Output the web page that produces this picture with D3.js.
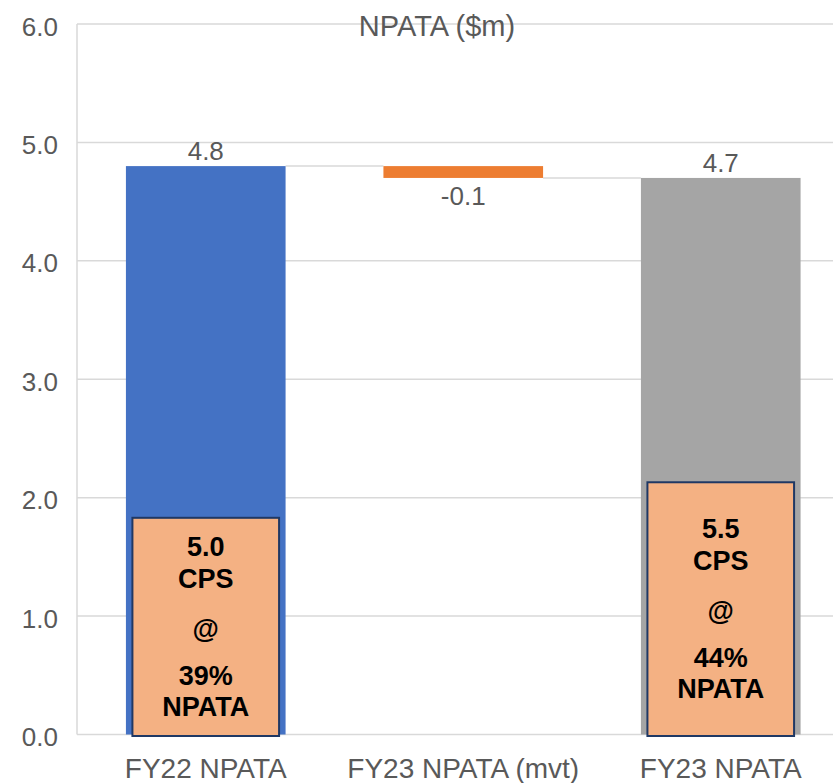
<!DOCTYPE html>
<html>
<head>
<meta charset="utf-8">
<script src="https://cdn.jsdelivr.net/npm/d3@7"></script>
<style>
  html, body { margin: 0; padding: 0; background: #fff; }
  svg { display: block; font-family: "Liberation Sans", Arial, sans-serif; }
</style>
</head>
<body>
<svg id="chart" width="833" height="783"></svg>
<script>
// NPATA bridge: FY22 -> movement -> FY23
const categories = ["FY22 NPATA", "FY23 NPATA (mvt)", "FY23 NPATA"];
const values = [4.8, -0.1, 4.7];
const barKinds = ["total", "delta", "total"];
const valueLabels = ["4.8", "-0.1", "4.7"];
const barColors = ["#4472C4", "#ED7D31", "#A5A5A5"];
const yTicks = [0, 1, 2, 3, 4, 5, 6];
const yTickLabels = ["0.0", "1.0", "2.0", "3.0", "4.0", "5.0", "6.0"];
const chartTitle = "NPATA ($m)";

// Dividend call-outs sitting inside the total bars
const noteLines = [["5.0", "CPS", "@", "39%", "NPATA"], null, ["5.5", "CPS", "@", "44%", "NPATA"]];
const noteTops = [1.83, null, 2.13];

const svg = d3.select("#chart");
const plotLeft = 77, plotRight = 849.5, plotTop = 24, plotBottom = 734.5;

const x = d3.scaleBand().domain(categories).range([plotLeft, plotRight])
  .paddingInner(0.38).paddingOuter(0.19);
const y = d3.scaleLinear().domain([0, 6]).range([plotBottom, plotTop]);

const textGray = "#595959";
const gridGray = "#d9d9d9";

// gridlines
svg.append("g").selectAll("line").data(yTicks).join("line")
  .attr("x1", plotLeft).attr("x2", 833)
  .attr("y1", d => y(d)).attr("y2", d => y(d))
  .attr("stroke", gridGray).attr("stroke-width", 1.5);

// left axis line
svg.append("line")
  .attr("x1", plotLeft).attr("x2", plotLeft).attr("y1", y(6)).attr("y2", y(0))
  .attr("stroke", gridGray).attr("stroke-width", 1.5);

// y tick labels
svg.append("g").selectAll("text").data(yTicks).join("text")
  .attr("x", 58).attr("y", d => y(d) + 11.5)
  .attr("text-anchor", "end").attr("fill", textGray)
  .attr("font-size", 26)
  .text((d, i) => yTickLabels[i]);

// waterfall geometry
let running = 0;
const bars = categories.map((c, i) => {
  let start, end;
  if (barKinds[i] === "total") {
    start = 0; end = values[i]; running = values[i];
  } else {
    start = running; end = running + values[i]; running = end;
  }
  return { c, i, lo: Math.min(start, end), hi: Math.max(start, end), start, end };
});

// connector lines between bars
for (let i = 0; i < bars.length - 1; i++) {
  const level = bars[i].end;
  svg.append("line")
    .attr("x1", x(categories[i]) + x.bandwidth())
    .attr("x2", x(categories[i + 1]))
    .attr("y1", y(level)).attr("y2", y(level))
    .attr("stroke", gridGray).attr("stroke-width", 1.5);
}

// bars
svg.append("g").selectAll("rect").data(bars).join("rect")
  .attr("x", d => x(d.c)).attr("width", x.bandwidth())
  .attr("y", d => y(d.hi)).attr("height", d => y(d.lo) - y(d.hi))
  .attr("fill", d => barColors[d.i]);

// value labels
svg.append("g").selectAll("text").data(bars).join("text")
  .attr("x", d => x(d.c) + x.bandwidth() / 2)
  .attr("y", d => values[d.i] < 0 ? y(d.lo) + 27 : y(d.hi) - 6)
  .attr("text-anchor", "middle").attr("fill", textGray)
  .attr("font-size", 26)
  .text(d => valueLabels[d.i]);

// category labels
svg.append("g").selectAll("text").data(categories).join("text")
  .attr("x", d => x(d) + x.bandwidth() / 2).attr("y", 778)
  .attr("text-anchor", "middle").attr("fill", textGray)
  .attr("font-size", 28)
  .text(d => d);

// title
svg.append("text")
  .attr("x", 437).attr("y", 36)
  .attr("text-anchor", "middle").attr("fill", textGray)
  .attr("font-size", 29)
  .text(chartTitle);

// call-out boxes
const lineOffsets = [-80, -48, 2, 49, 80];
categories.forEach((c, i) => {
  if (!noteLines[i]) return;
  const bx = x(c) + 6.5, bw = x.bandwidth() - 13;
  const by = y(noteTops[i]), bh = y(0) + 1.5 - by;
  const g = svg.append("g");
  g.append("rect")
    .attr("x", bx).attr("y", by).attr("width", bw).attr("height", bh)
    .attr("fill", "#F4B183").attr("stroke", "#1F3864").attr("stroke-width", 2);
  const mid = by + bh / 2;
  g.selectAll("text").data(noteLines[i]).join("text")
    .attr("x", bx + bw / 2)
    .attr("y", (d, k) => mid + lineOffsets[k])
    .attr("dominant-baseline", "central")
    .attr("text-anchor", "middle")
    .attr("font-weight", "bold").attr("font-size", 27).attr("fill", "#000")
    .text(d => d);
});
</script>
</body>
</html>
